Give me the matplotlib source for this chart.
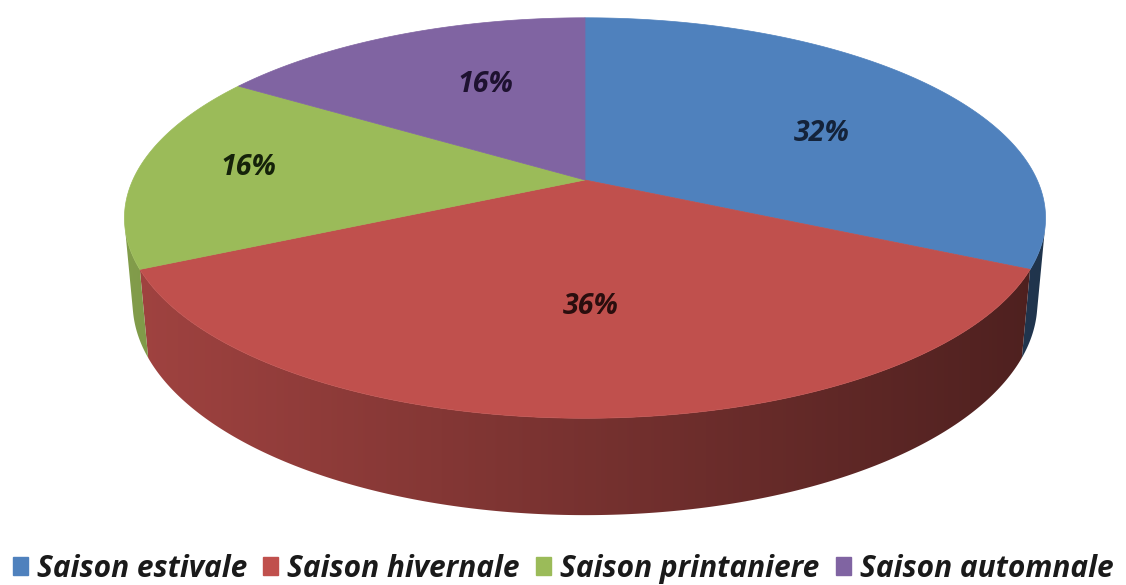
import numpy as np
import matplotlib
matplotlib.use("Agg")
import matplotlib.pyplot as plt
from matplotlib.patches import Polygon, Patch

# === Data ===
labels = ["Saison estivale", "Saison hivernale", "Saison printaniere", "Saison automnale"]
values = [32, 36, 16, 16]
pct_text = ["32%", "36%", "16%", "16%"]
colors = ["#4F81BD", "#C0504D", "#9BBB59", "#8064A2"]
text_colors = ["#14233a", "#2a0e0e", "#15220a", "#1e1230"]

# === Perspective camera (pixels) ===
cx, cy = 585, 180
fx, fy, D = 2165.0, 2220.0, 4.788
phi = np.radians(24.6)
c, s = np.cos(phi), np.sin(phi)
H = 0.2
# label placement: (radius fraction, angle offset in degrees)
label_r = [0.603, 0.585, 0.757, 0.596]
label_dt = [7.9, -1.2, 1.25, 4.7]
FONT = "Open Sans"


def project(X, Y, Z):
    d = D - (Z * c + Y * s)
    return cx + fx * X / d, cy + fy * (Z * s - Y * c) / d


fig = plt.figure(figsize=(11.26, 5.85), dpi=100)
ax = fig.add_axes([0, 0, 1, 1])
ax.set_xlim(0, 1126)
ax.set_ylim(585, 0)
ax.axis("off")

total = sum(values)
bounds = np.concatenate([[0], np.cumsum(values) / total * 360.0])

# === Side wall (front part only), horizontal shading gradient ===
vis_lim = np.degrees(np.arccos(-1.0 / (D * c)))
xs = np.linspace(0, 1126, 1126)
kx = 0.62 - 0.22 * np.clip((xs - cx) / 465.0, -1, 1)
for i in range(len(values)):
    a0, a1 = bounds[i], bounds[i + 1]
    lo, hi = max(a0, vis_lim), min(a1, 360 - vis_lim)
    if hi <= lo:
        continue
    th = np.radians(np.linspace(lo, hi, 200))
    top = [project(np.sin(t), 0, -np.cos(t)) for t in th]
    bot = [project(np.sin(t), -H, -np.cos(t)) for t in th[::-1]]
    band = Polygon(top + bot, closed=True, facecolor="none", edgecolor="none")
    ax.add_patch(band)
    rgb = np.array(matplotlib.colors.to_rgb(colors[i]))
    grad = np.clip(kx[None, :, None] * rgb[None, None, :], 0, 1)
    im = ax.imshow(grad, extent=(0, 1126, 585, 0), aspect="auto", interpolation="bilinear")
    im.set_clip_path(band)

# === Top surface ===
for i in range(len(values)):
    a0, a1 = bounds[i], bounds[i + 1]
    th = np.radians(np.linspace(a0, a1, 200))
    pts = [project(0, 0, 0)] + [project(np.sin(t), 0, -np.cos(t)) for t in th]
    ax.add_patch(Polygon(pts, closed=True, facecolor=colors[i], edgecolor=colors[i], lw=0.5))

# === Labels ===
for i in range(len(values)):
    mid = np.radians((bounds[i] + bounds[i + 1]) / 2 + label_dt[i])
    r = label_r[i]
    x, y = project(r * np.sin(mid), 0, -r * np.cos(mid))
    ax.text(x, y, pct_text[i], ha="center", va="center", fontsize=20.5,
            fontweight="bold", fontstyle="italic", family=FONT, color=text_colors[i])

ax.set_xlim(0, 1126)
ax.set_ylim(585, 0)

handles = [Patch(facecolor=col, edgecolor=col) for col in colors]
fig.legend(handles, labels, loc="center", bbox_to_anchor=(0.5, 1 - 569 / 585), ncol=4,
           frameon=False, handlelength=0.5, handleheight=0.55, handletextpad=0.3,
           columnspacing=0.55, prop={"family": FONT, "weight": "bold", "style": "italic", "size": 21.5},
           labelcolor="#1a1a1a", borderaxespad=0)

fig.savefig("out.png", dpi=100)
